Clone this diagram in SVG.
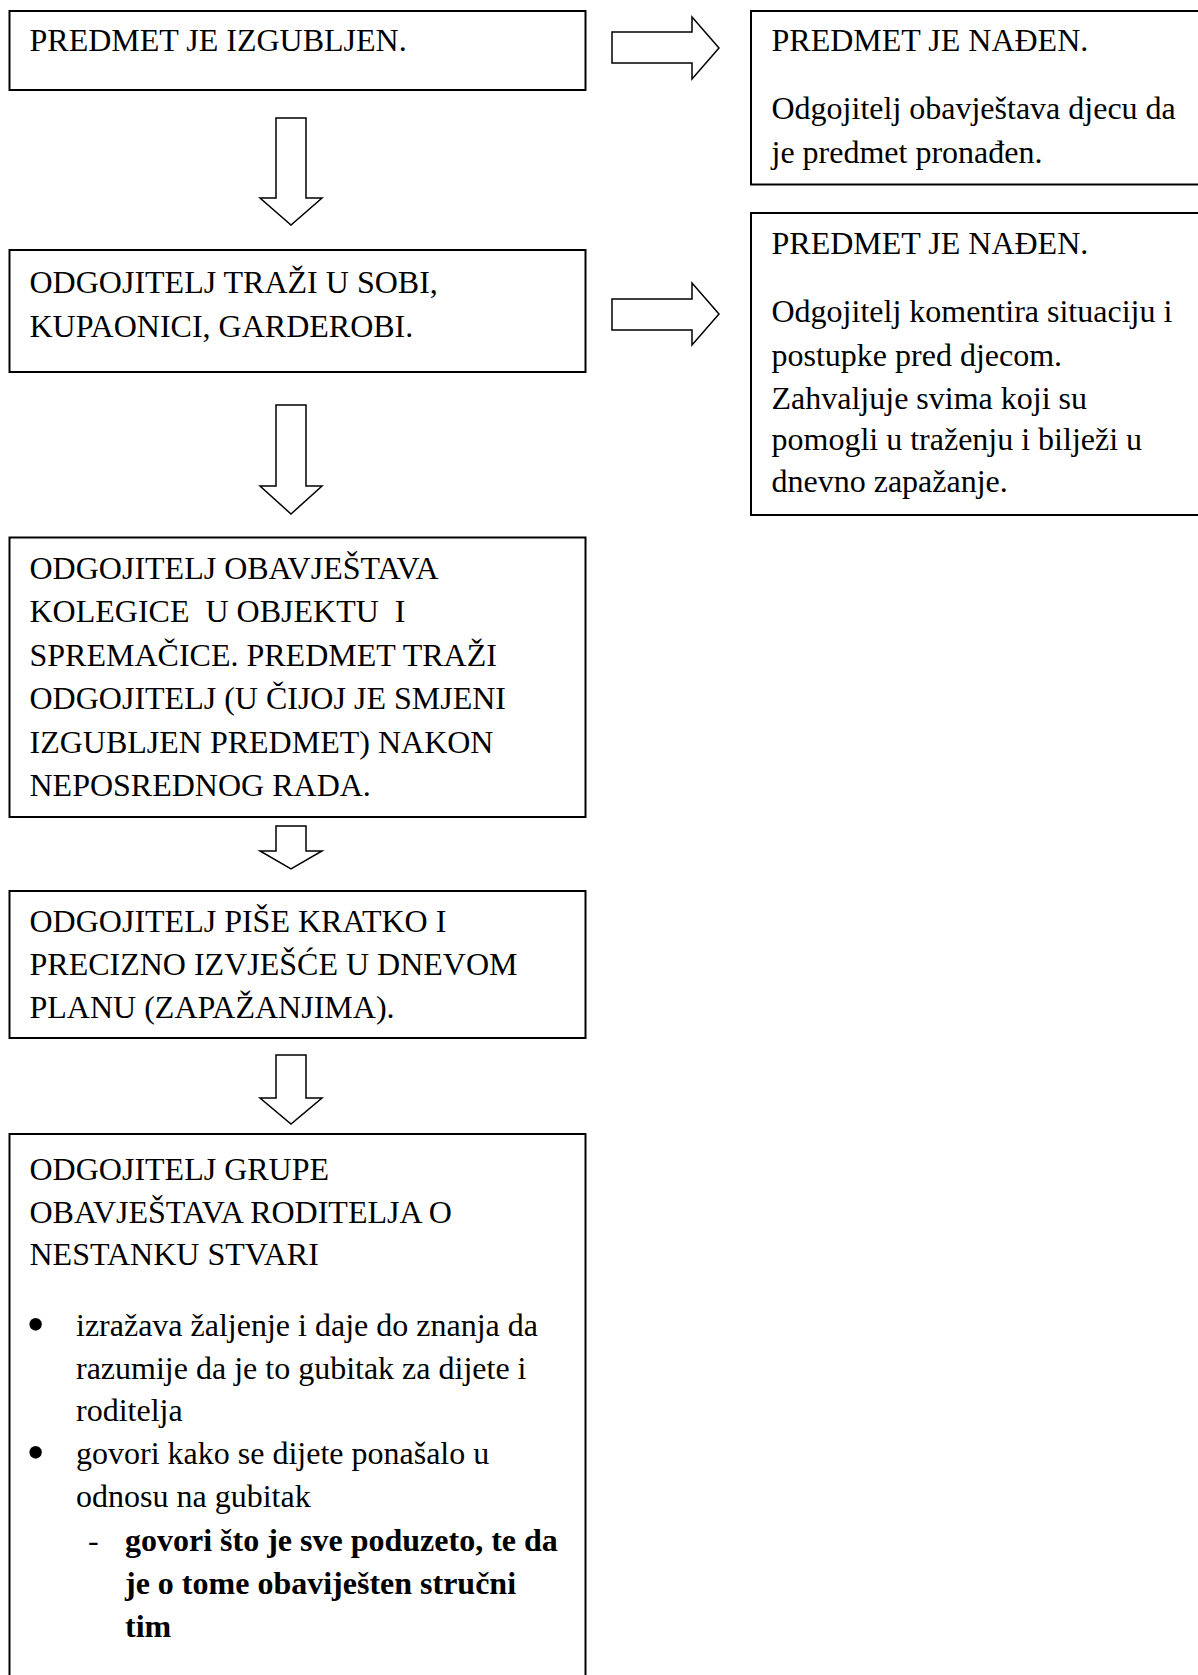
<svg xmlns="http://www.w3.org/2000/svg" width="1198" height="1675" viewBox="0 0 1198 1675">
<style>
.box{fill:#fff;stroke:#000;stroke-width:2}
.arr{fill:#fff;stroke:#000;stroke-width:1.5;stroke-linejoin:miter}
text{font-family:"Liberation Serif","Times New Roman",serif;font-size:32px;fill:#000}
.b{font-weight:bold}
.bul{font-size:52px}
</style>
<rect width="1198" height="1675" fill="#fff"/>
<g id="connectors">
<polygon class="arr" points="276,118 306,118 306,198 322,198 291,225 260,198 276,198"/>
<polygon class="arr" points="276,405 306,405 306,486 322,486 291,514 260,486 276,486"/>
<polygon class="arr" points="276,826 306,826 306,851 322,851 291,869 260,851 276,851"/>
<polygon class="arr" points="276,1055 306,1055 306,1098 322,1098 291,1124 260,1098 276,1098"/>
<polygon class="arr" points="612,32 692,32 692,17 719,48 692,79 692,63 612,63"/>
<polygon class="arr" points="612,299 692,299 692,283 719,314 692,345 692,330 612,330"/>
</g>
<g id="n1">
<rect class="box" x="9.5" y="11" width="576" height="79"/>
<text x="29.5" y="51">PREDMET JE IZGUBLJEN.</text>
</g>
<g id="n2">
<rect class="box" x="9.5" y="250" width="576" height="122"/>
<text x="29.5" y="293">ODGOJITELJ TRAŽI U SOBI,</text>
<text x="29.5" y="337">KUPAONICI, GARDEROBI.</text>
</g>
<g id="n3">
<rect class="box" x="9.5" y="537.5" width="576" height="279.5"/>
<text x="29.5" y="579">ODGOJITELJ OBAVJEŠTAVA</text>
<text x="29.5" y="622" xml:space="preserve">KOLEGICE  U OBJEKTU  I</text>
<text x="29.5" y="666">SPREMAČICE. PREDMET TRAŽI</text>
<text x="29.5" y="709">ODGOJITELJ (U ČIJOJ JE SMJENI</text>
<text x="29.5" y="753">IZGUBLJEN PREDMET) NAKON</text>
<text x="29.5" y="796">NEPOSREDNOG RADA.</text>
</g>
<g id="n4">
<rect class="box" x="9.5" y="891" width="576" height="147"/>
<text x="29.5" y="932">ODGOJITELJ PIŠE KRATKO I</text>
<text x="29.5" y="975">PRECIZNO IZVJEŠĆE U DNEVOM</text>
<text x="29.5" y="1018">PLANU (ZAPAŽANJIMA).</text>
</g>
<g id="n5">
<rect class="box" x="9.5" y="1134" width="576" height="560"/>
<text x="29.5" y="1180">ODGOJITELJ GRUPE</text>
<text x="29.5" y="1223">OBAVJEŠTAVA RODITELJA O</text>
<text x="29.5" y="1265">NESTANKU STVARI</text>
<text class="bul" x="26.5" y="1342">•</text>
<text x="76" y="1336">izražava žaljenje i daje do znanja da</text>
<text x="76" y="1379">razumije da je to gubitak za dijete i</text>
<text x="76" y="1421">roditelja</text>
<text class="bul" x="26.5" y="1470">•</text>
<text x="76" y="1464">govori kako se dijete ponašalo u</text>
<text x="76" y="1507">odnosu na gubitak</text>
<text x="88" y="1551">-</text>
<text class="b" x="125" y="1551">govori što je sve poduzeto, te da</text>
<text class="b" x="125" y="1594">je o tome obaviješten stručni</text>
<text class="b" x="125" y="1637">tim</text>
</g>
<g id="r1">
<rect class="box" x="751" y="11" width="460" height="173.5"/>
<text x="771.5" y="51">PREDMET JE NAĐEN.</text>
<text x="771.5" y="119">Odgojitelj obavještava djecu da</text>
<text x="771.5" y="163">je predmet pronađen.</text>
</g>
<g id="r2">
<rect class="box" x="751" y="213" width="460" height="302"/>
<text x="771.5" y="254">PREDMET JE NAĐEN.</text>
<text x="771.5" y="322">Odgojitelj komentira situaciju i</text>
<text x="771.5" y="366">postupke pred djecom.</text>
<text x="771.5" y="409">Zahvaljuje svima koji su</text>
<text x="771.5" y="450">pomogli u traženju i bilježi u</text>
<text x="771.5" y="492">dnevno zapažanje.</text>
</g>
</svg>
